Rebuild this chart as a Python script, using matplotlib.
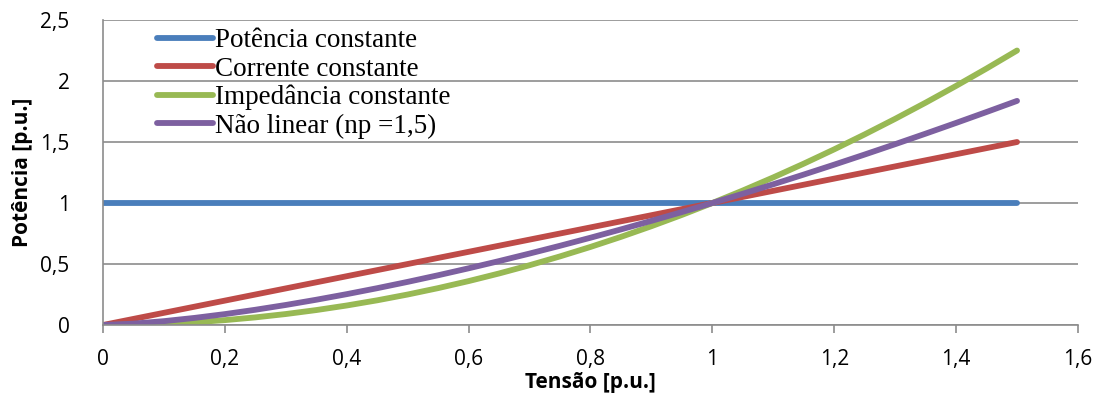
import matplotlib.pyplot as plt

# tensão [p.u.] e potência [p.u.] de cada modelo de carga
tensao = [0.0, 0.05, 0.1, 0.15, 0.2, 0.25, 0.3, 0.35, 0.4, 0.45, 0.5,
          0.55, 0.6, 0.65, 0.7, 0.75, 0.8, 0.85, 0.9, 0.95, 1.0,
          1.05, 1.1, 1.15, 1.2, 1.25, 1.3, 1.35, 1.4, 1.45, 1.5]
p_const = [1.0] * 31
i_const = [0.0, 0.05, 0.1, 0.15, 0.2, 0.25, 0.3, 0.35, 0.4, 0.45, 0.5,
           0.55, 0.6, 0.65, 0.7, 0.75, 0.8, 0.85, 0.9, 0.95, 1.0,
           1.05, 1.1, 1.15, 1.2, 1.25, 1.3, 1.35, 1.4, 1.45, 1.5]
z_const = [0.0, 0.0025, 0.01, 0.0225, 0.04, 0.0625, 0.09, 0.1225, 0.16, 0.2025, 0.25,
           0.3025, 0.36, 0.4225, 0.49, 0.5625, 0.64, 0.7225, 0.81, 0.9025, 1.0,
           1.1025, 1.21, 1.3225, 1.44, 1.5625, 1.69, 1.8225, 1.96, 2.1025, 2.25]
nao_linear = [0.0, 0.0112, 0.0316, 0.0581, 0.0894, 0.125, 0.1643, 0.2071, 0.253, 0.3019, 0.3536,
              0.4079, 0.4648, 0.5241, 0.5857, 0.6495, 0.7155, 0.7837, 0.8538, 0.926, 1.0,
              1.0759, 1.1537, 1.2332, 1.3145, 1.3975, 1.4822, 1.5686, 1.6565, 1.7461, 1.8371]

x_ticks = [0, 0.2, 0.4, 0.6, 0.8, 1.0, 1.2, 1.4, 1.6]
x_labels = ["0", "0,2", "0,4", "0,6", "0,8", "1", "1,2", "1,4", "1,6"]
y_ticks = [0, 0.5, 1.0, 1.5, 2.0, 2.5]
y_labels = ["0", "0,5", "1", "1,5", "2", "2,5"]

fig = plt.figure(figsize=(11.03, 3.94), dpi=100)
ax = fig.add_axes([0.0934, 0.1751, 0.8839, 0.7741])

lw = 4.2
ax.plot(tensao, p_const, color="#4A7EBB", lw=lw, solid_capstyle="round", label="Potência constante")
ax.plot(tensao, i_const, color="#BE4B48", lw=lw, solid_capstyle="round", label="Corrente constante")
ax.plot(tensao, z_const, color="#98B954", lw=lw, solid_capstyle="round", label="Impedância constante")
ax.plot(tensao, nao_linear, color="#7D60A0", lw=lw, solid_capstyle="round", label="Não linear (np =1,5)")

ax.set_xlim(0, 1.6)
ax.set_ylim(0, 2.5)
ax.set_xticks(x_ticks)
ax.set_xticklabels(x_labels)
ax.set_yticks(y_ticks)
ax.set_yticklabels(y_labels)
ax.tick_params(axis="x", direction="out", length=6, width=1.2, color="#8C8C8C",
               labelsize=15, pad=11)
ax.tick_params(axis="y", length=0, labelsize=15, pad=24)
for lbl in ax.get_xticklabels() + ax.get_yticklabels():
    lbl.set_family("Open Sans")

ax.grid(axis="y", color="#8C8C8C", lw=1.2)
ax.set_axisbelow(True)
for s in ["top", "right"]:
    ax.spines[s].set_visible(False)
for s in ["left", "bottom"]:
    ax.spines[s].set_color("#8C8C8C")
    ax.spines[s].set_linewidth(1.2)

ax.set_xlabel("Tensão [p.u.]", fontsize=15, fontweight="bold", family="Open Sans", labelpad=2)
ax.set_ylabel("Potência [p.u.]", fontsize=15, fontweight="bold", family="Open Sans", labelpad=5)

leg = ax.legend(loc="upper left", bbox_to_anchor=(0.036, 1.035), frameon=False,
                prop={"family": "Liberation Serif", "size": 19.5},
                handlelength=2.05, handletextpad=0.1, labelspacing=0.12, borderpad=0.2)

fig.savefig("out.png", dpi=100)
